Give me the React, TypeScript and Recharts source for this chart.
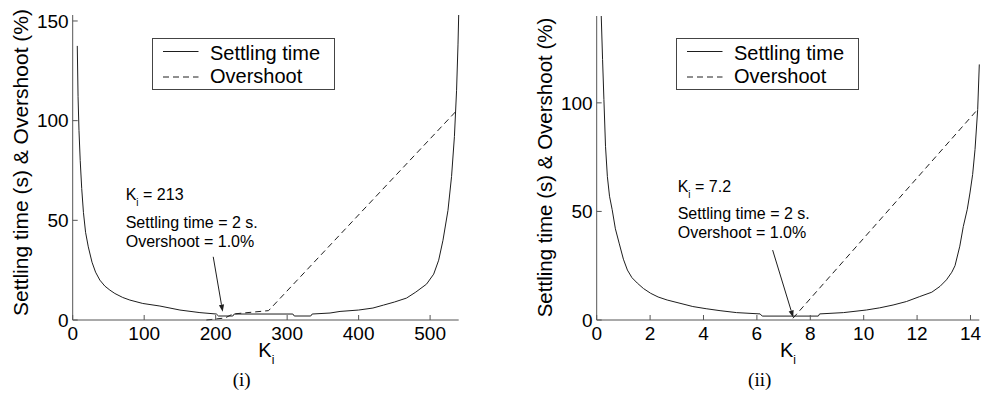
import React from "react";
import { LineChart, Line, XAxis, YAxis, Legend, ReferenceLine } from "recharts";

const FONT = '"Liberation Sans", Arial, Helvetica, sans-serif';
const INK = "#1e1e1e";
const AXIS = "#555";

// (i) Ki from 0 to 540
const leftSettlingK = [6.4, 7.5, 8.8, 10.5, 12.6, 15, 18, 21.8, 27, 32, 38, 45, 52, 59, 70, 80, 98, 122, 150, 178, 201, 204, 224, 226, 308, 310, 333, 335, 360, 374, 400, 420, 435, 450, 467, 480, 495, 505, 512, 518, 525, 530, 534, 537, 539, 540];
const leftSettlingT = [137.5, 112, 95, 80, 66, 54, 44, 36.7, 29, 24, 20, 17, 15, 13.3, 11.3, 10, 8.3, 7, 5, 3.7, 3, 2, 2, 3, 3, 2, 2, 3, 3.5, 4.3, 5, 6, 7.5, 9, 11, 14, 18, 23, 30, 40, 55, 72, 92, 115, 138, 153];
const leftOvershootK = [187, 213, 224, 274, 537];
const leftOvershootP = [0, 1, 3, 4.7, 105];
const leftXTicks = [0, 100, 200, 300, 400, 500];
const leftYTicks = [0, 50, 100, 150];

// (ii) Ki from 0 to 14.33
const rightSettlingK = [0.17, 0.22, 0.27, 0.33, 0.4, 0.48, 0.58, 0.7, 0.84, 1.0, 1.15, 1.32, 1.52, 1.75, 2.02, 2.3, 2.64, 3.12, 3.6, 4.1, 4.62, 5.24, 6.12, 6.2, 8.3, 8.35, 9.24, 10.1, 10.6, 11.1, 11.6, 12.1, 12.55, 12.86, 13.1, 13.3, 13.42, 13.6, 13.73, 13.88, 13.98, 14.08, 14.17, 14.27, 14.33];
const rightSettlingT = [140, 120, 101.5, 80, 66, 57, 50.8, 42, 35.4, 28, 23, 19.5, 17, 14.5, 12.3, 10.6, 9.2, 7.7, 6.2, 5.2, 4.3, 3.4, 2.8, 1.8, 1.8, 2.8, 3.4, 4.6, 5.6, 6.9, 8.5, 10.8, 12.8, 15.5, 18.5, 22, 25, 34, 43, 51, 58.5, 67, 78.5, 97, 117.7];
const rightOvershootK = [7.35, 14.27];
const rightOvershootP = [0.8, 97];
const rightXTicks = [0, 2, 4, 6, 8, 10, 12, 14];
const rightYTicks = [0, 50, 100];

const toRows = (ks: number[], vs: number[]) => ks.map((k, i) => ({ k, v: vs[i] }));

const Arrow = (p: any) => {
  const { x1, y1, x2, y2 } = p;
  const a = Math.atan2(y2 - y1, x2 - x1);
  const L = 7, W = 2.6;
  const bx = x2 - L * Math.cos(a);
  const by = y2 - L * Math.sin(a);
  const pts = `${x2},${y2} ${bx + W * Math.sin(a)},${by - W * Math.cos(a)} ${bx - W * Math.sin(a)},${by + W * Math.cos(a)}`;
  return (
    <g>
      <line x1={x1} y1={y1} x2={bx} y2={by} stroke={INK} strokeWidth={1} />
      <polygon points={pts} fill={INK} />
    </g>
  );
};

function LegendBox() {
  return (
    <svg width={184} height={53} style={{ display: "block" }}>
      <rect x={0.5} y={0.5} width={182} height={51} fill="#fff" stroke="#444" />
      <line x1={11} x2={46.5} y1={13.5} y2={13.5} stroke={INK} />
      <text x={58} y={21.7} fontSize={20} fill="#000">Settling time</text>
      <line x1={11} x2={46.5} y1={39} y2={39} stroke={INK} strokeDasharray="6 4" />
      <text x={58} y={45} fontSize={20} fill="#000">Overshoot</text>
    </svg>
  );
}

type PanelProps = {
  width: number;
  top: number;
  right: number;
  yWidth: number;
  xMax: number;
  yMax: number;
  xTicks: number[];
  yTicks: number[];
  settling: { k: number; v: number }[];
  overshoot: { k: number; v: number }[];
  arrow: { x: number; y: number }[];
  legendLeft: number;
  legendTop: number;
};

function Panel(p: PanelProps) {
  return (
    <LineChart width={p.width} height={394} margin={{ top: p.top, right: p.right, bottom: 44, left: 0 }}>
      <XAxis
        type="number"
        dataKey="k"
        domain={[0, p.xMax]}
        ticks={p.xTicks}
        interval={0}
        height={30}
        tickSize={-5}
        tickMargin={12}
        stroke={AXIS}
        tick={{ fontSize: 19, fill: "#000" }}
      />
      <YAxis
        type="number"
        domain={[0, p.yMax]}
        ticks={p.yTicks}
        interval={0}
        width={p.yWidth}
        tickSize={-5}
        tickMargin={9}
        stroke={AXIS}
        tick={{ fontSize: 19, fill: "#000" }}
      />
      <Legend
        layout="vertical"
        align="center"
        verticalAlign="middle"
        wrapperStyle={{ left: p.legendLeft, top: p.legendTop, width: 184, height: 53 }}
        content={() => <LegendBox />}
      />
      <Line data={p.settling} dataKey="v" type="linear" stroke={INK} strokeWidth={1} dot={false} isAnimationActive={false} />
      <Line data={p.overshoot} dataKey="v" type="linear" stroke={INK} strokeWidth={1} strokeDasharray="6 4" dot={false} isAnimationActive={false} />
      <ReferenceLine segment={p.arrow} shape={Arrow} ifOverflow="visible" />
    </LineChart>
  );
}

function Note({ x, y, ki }: { x: number; y: number[]; ki: string }) {
  return (
    <g fontSize={16} fill="#000">
      <text x={x} y={y[0]}>
        K<tspan fontSize={10} dx={0} dy={6}>i</tspan>
        <tspan dy={-6}>{` = ${ki}`}</tspan>
      </text>
      <text x={x} y={y[1]}>Settling time = 2 s.</text>
      <text x={x} y={y[2]}>Overshoot = 1.0%</text>
    </g>
  );
}

function KiLabel({ x, y }: { x: number; y: number }) {
  return (
    <text x={x} y={y} fontSize={20} fill="#000">
      K<tspan fontSize={12} dx={0} dy={7}>i</tspan>
    </text>
  );
}

export default function App() {
  return (
    <div style={{ position: "absolute", left: 0, top: 0, width: 982, height: 394, background: "#fff", fontFamily: FONT }}>
      <div style={{ position: "absolute", left: 0, top: 0 }}>
        <Panel
          width={470}
          top={15}
          right={11.3}
          yWidth={72.7}
          xMax={540}
          yMax={152.5}
          xTicks={leftXTicks}
          yTicks={leftYTicks}
          settling={toRows(leftSettlingK, leftSettlingT)}
          overshoot={toRows(leftOvershootK, leftOvershootP)}
          arrow={[{ x: 196.6, y: 31.7 }, { x: 209.8, y: 4.2 }]}
          legendLeft={151.7}
          legendTop={38.3}
        />
      </div>
      <div style={{ position: "absolute", left: 490, top: 0 }}>
        <Panel
          width={492}
          top={16}
          right={2.7}
          yWidth={106.7}
          xMax={14.33}
          yMax={140}
          xTicks={rightXTicks}
          yTicks={rightYTicks}
          settling={toRows(rightSettlingK, rightSettlingT)}
          overshoot={toRows(rightOvershootK, rightOvershootP)}
          arrow={[{ x: 6.59, y: 32.2 }, { x: 7.36, y: 1.2 }]}
          legendLeft={185.7}
          legendTop={37.7}
        />
      </div>
      <svg width={982} height={394} style={{ position: "absolute", left: 0, top: 0, pointerEvents: "none" }}>
        <text transform="translate(28.3,162.5) rotate(-90)" textAnchor="middle" fontSize={21} fill="#000">
          Settling time (s) &amp; Overshoot (%)
        </text>
        <text transform="translate(551.7,167.5) rotate(-90)" textAnchor="middle" fontSize={20.5} fill="#000">
          Settling time (s) &amp; Overshoot (%)
        </text>
        <Note x={125.7} y={[200, 227.7, 246.7]} ki="213" />
        <Note x={677.7} y={[191.7, 218.7, 238.3]} ki="7.2" />
        <KiLabel x={258.3} y={356.7} />
        <KiLabel x={780} y={356.7} />
        <text x={241.7} y={386} textAnchor="middle" fontSize={19} fontFamily='"Liberation Serif", "Times New Roman", serif' fill="#000">(i)</text>
        <text x={759.7} y={386} textAnchor="middle" fontSize={19} fontFamily='"Liberation Serif", "Times New Roman", serif' fill="#000">(ii)</text>
      </svg>
    </div>
  );
}
